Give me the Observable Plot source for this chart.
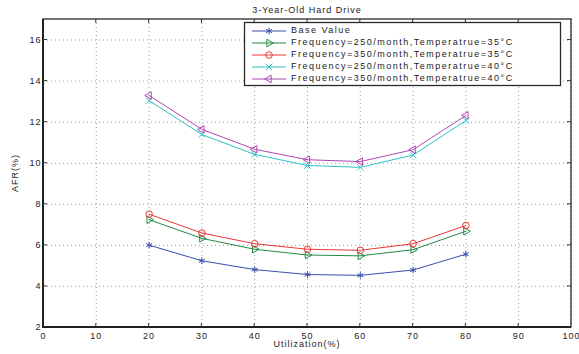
<!DOCTYPE html>
<html><head><meta charset="utf-8">
<script src="https://cdn.jsdelivr.net/npm/d3@7"></script>
<script src="https://cdn.jsdelivr.net/npm/@observablehq/plot@0.6"></script>
<style>
body{margin:0;background:#fff;}
</style></head><body><div id="chart"></div>
<script>
const title = "3-Year-Old Hard Drive";
const xLabel = "Utilization(%)";
const yLabel = "AFR(%)";
const utilization = [20, 30, 40, 50, 60, 70, 80];
const seriesNames = [
  "Base Value",
  "Frequency=250/month,Temperatrue=35°C",
  "Frequency=350/month,Temperatrue=35°C",
  "Frequency=250/month,Temperatrue=40°C",
  "Frequency=350/month,Temperatrue=40°C"
];
const baseValue = [6.01, 5.25, 4.82, 4.58, 4.54, 4.80, 5.57];
const f250t35 = [7.25, 6.34, 5.81, 5.53, 5.49, 5.79, 6.69];
const f350t35 = [7.52, 6.60, 6.08, 5.81, 5.76, 6.08, 6.97];
const f250t40 = [13.05, 11.40, 10.43, 9.89, 9.80, 10.40, 12.08];
const f350t40 = [13.30, 11.65, 10.68, 10.17, 10.08, 10.66, 12.33];
const seriesColors = ["#3a4fae", "#238a45", "#ee3535", "#2ec4c8", "#b048b0"];
const seriesSymbols = ["asterisk", "triangle", "circle", "times", "triangle"];
const seriesRotate = [0, 90, 0, 0, -90];
const seriesR = [3.2, 2.8, 3.3, 3, 2.8];
const xTicks = [0, 10, 20, 30, 40, 50, 60, 70, 80, 90, 100];
const yTicks = [2, 4, 6, 8, 10, 12, 14, 16];

const seriesValues = [baseValue, f250t35, f350t35, f250t40, f350t40];
const font = "'Liberation Sans', Arial, Helvetica, sans-serif";

const marks = [
  Plot.ruleX(xTicks, {stroke: "#9a9a9a", strokeDasharray: "1,3"}),
  Plot.ruleY(yTicks, {stroke: "#9a9a9a", strokeDasharray: "1,3"})
];
seriesValues.forEach((vals, i) => {
  const rows = utilization.map((u, j) => ({u, v: vals[j]}));
  marks.push(Plot.line(rows, {x: "u", y: "v", stroke: seriesColors[i], strokeWidth: 1}));
  marks.push(Plot.dot(rows, {x: "u", y: "v", stroke: seriesColors[i], fill: "none", symbol: seriesSymbols[i], rotate: seriesRotate[i], r: seriesR[i], strokeWidth: 1}));
});

const plot = Plot.plot({
  width: 579, height: 354,
  marginTop: 19, marginRight: 8, marginBottom: 27, marginLeft: 43,
  style: {fontFamily: font, fontSize: "9px", color: "#222", background: "white", letterSpacing: "1px"},
  x: {domain: [0, 100], ticks: xTicks, tickSize: 0, tickPadding: 5, label: null, tickFormat: d => String(d)},
  y: {domain: [2, 17], ticks: yTicks, tickSize: 0, tickPadding: 2, label: null, tickFormat: d => String(d)},
  marks
});
document.getElementById("chart").appendChild(plot);

const svg = d3.select(plot);
const sx = plot.scale("x"), sy = plot.scale("y");
const X0 = sx.apply(0), X1 = sx.apply(100), Y0 = sy.apply(2), Y1 = sy.apply(17);
const g = svg.append("g");
// frame
g.append("rect").attr("x", X0).attr("y", Y1).attr("width", X1 - X0).attr("height", Y0 - Y1)
  .attr("fill", "none").attr("stroke", "#2a2a2a").attr("stroke-width", 1.3);
g.append("line").attr("x1", X0).attr("x2", X0).attr("y1", Y1).attr("y2", Y0 + 1).attr("stroke", "#222").attr("stroke-width", 2);
g.append("line").attr("x1", X0 - 1).attr("x2", X1).attr("y1", Y0).attr("y2", Y0).attr("stroke", "#222").attr("stroke-width", 2);
// inward ticks
xTicks.slice(1, -1).forEach(t => {
  const x = sx.apply(t);
  g.append("line").attr("x1", x).attr("x2", x).attr("y1", Y0).attr("y2", Y0 - 4).attr("stroke", "#333");
  g.append("line").attr("x1", x).attr("x2", x).attr("y1", Y1).attr("y2", Y1 + 4).attr("stroke", "#333");
});
yTicks.slice(1).forEach(t => {
  const y = sy.apply(t);
  g.append("line").attr("x1", X0).attr("x2", X0 + 4).attr("y1", y).attr("y2", y).attr("stroke", "#333");
  g.append("line").attr("x1", X1).attr("x2", X1 - 4).attr("y1", y).attr("y2", y).attr("stroke", "#333");
});
// title & axis labels
const txt = (s, x, y, rot) => {
  const t = g.append("text").attr("x", x).attr("y", y).attr("text-anchor", "middle")
    .attr("dominant-baseline", "middle").attr("fill", "#222").style("font-size", "9px").style("letter-spacing", "1px").text(s);
  if (rot) t.attr("transform", `rotate(${rot},${x},${y})`);
};
const cx = (X0 + X1) / 2;
txt(title, cx, 10.5);
txt(xLabel, cx, 345);
txt(yLabel, 16, (Y0 + Y1) / 2, -90);
// legend
const lg = svg.append("g");
lg.append("rect").attr("x", 244.5).attr("y", 22.5).attr("width", 316).attr("height", 63)
  .attr("fill", "white").attr("stroke", "#2a2a2a").attr("stroke-width", 1.3);
const symMap = {asterisk: d3.symbolAsterisk, triangle: d3.symbolTriangle, circle: d3.symbolCircle, times: d3.symbolTimes};
seriesNames.forEach((name, i) => {
  const y = 31 + 12 * i;
  lg.append("line").attr("x1", 252).attr("x2", 286).attr("y1", y).attr("y2", y).attr("stroke", seriesColors[i]);
  lg.append("path").attr("d", d3.symbol(symMap[seriesSymbols[i]], Math.PI * seriesR[i] * seriesR[i])())
    .attr("transform", `translate(269,${y}) rotate(${seriesRotate[i]})`)
    .attr("fill", "none").attr("stroke", seriesColors[i]);
  lg.append("text").attr("x", 291).attr("y", y).attr("text-anchor", "start").attr("dominant-baseline", "middle")
    .attr("fill", "#222").style("font-size", "9px").style("letter-spacing", "1.5px").text(name);
});
</script></body></html>
